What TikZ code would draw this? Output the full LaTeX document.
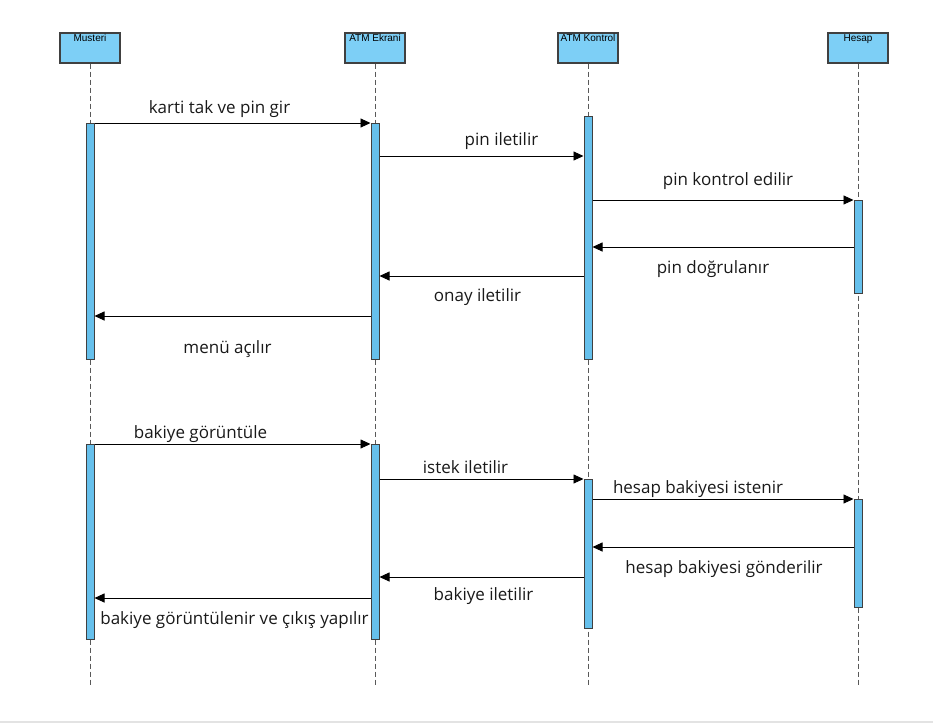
\documentclass[tikz,border=0pt]{standalone}
\usepackage{fontspec}
\setmainfont{Open Sans}
\newfontfamily\hdrfont{Liberation Sans}
\usetikzlibrary{arrows.meta}

\definecolor{hdrblue}{RGB}{125,207,246}
\definecolor{actblue}{RGB}{102,192,236}
\definecolor{edgegray}{RGB}{64,64,64}

\tikzset{
  head/.style={draw=edgegray, line width=1.2pt, fill=hdrblue, minimum width=60pt, minimum height=30pt, inner sep=0pt},
  headtext/.style={anchor=north, yshift=-2pt, inner sep=0pt, font=\hdrfont\fontsize{10}{12}\selectfont},
  actbar/.style={draw=edgegray, line width=1pt, fill=actblue, minimum width=8pt, inner sep=0pt},
  lifeline/.style={draw=gray!70!black, line width=0.8pt, dash pattern=on 5pt off 3pt},
  msg/.style={-{Triangle[length=10pt,width=9pt]}, line width=0.9pt},
  lbl/.style={anchor=base, inner sep=0pt, font=\fontsize{17}{19}\selectfont, text=black!90}
}

\begin{document}
\begin{tikzpicture}[x=1pt, y=-1pt]
  \useasboundingbox (0,0) rectangle (933,723);
  \draw[gray!22, line width=2pt] (0,722) -- (933,722);

  % participants
  \node[head, label={[headtext]north:Musteri}]     (musteri) at (90,48)  {};
  \node[head, label={[headtext]north:ATM Ekrani}]  (ekran)   at (375,48) {};
  \node[head, label={[headtext]north:ATM Kontrol}] (kontrol) at (588,48) {};
  \node[head, label={[headtext]north:Hesap}]       (hesap)   at (858,48) {};

  \foreach \p in {musteri,ekran,kontrol,hesap}
    \draw[lifeline] (\p.south) -- (\p.south |- 0,687);

  % activation bars
  \node[actbar, minimum height=236pt] (musteri-1) at (90,241)    {};
  \node[actbar, minimum height=236pt] (ekran-1)   at (375,241)   {};
  \node[actbar, minimum height=243pt] (kontrol-1) at (588,237.5) {};
  \node[actbar, minimum height=93pt]  (hesap-1)   at (858,246.5) {};
  \node[actbar, minimum height=195pt] (musteri-2) at (90,541.5)  {};
  \node[actbar, minimum height=195pt] (ekran-2)   at (375,541.5) {};
  \node[actbar, minimum height=149pt] (kontrol-2) at (588,553.5) {};
  \node[actbar, minimum height=108pt] (hesap-2)   at (858,553)   {};

  % pin
  \path[msg]
  (musteri-1.east |- 0,123) edge node[lbl, xshift=-13pt, yshift=10pt] {karti tak ve pin gir} (ekran-1.west |- 0,123)
  (ekran-1.east |- 0,156) edge node[lbl, xshift=20pt, yshift=11pt] {pin iletilir} (kontrol-1.west |- 0,156)
  (kontrol-1.east |- 0,200) edge node[lbl, xshift=5pt, yshift=15pt] {pin kontrol edilir} (hesap-1.west |- 0,200)
  (hesap-1.west |- 0,247) edge node[lbl, xshift=-10pt, yshift=-26pt] {pin doğrulanır} (kontrol-1.east |- 0,247)
  (kontrol-1.west |- 0,276) edge node[lbl, xshift=-4pt, yshift=-25pt] {onay iletilir} (ekran-1.east |- 0,276)
  (ekran-1.west |- 0,316) edge node[lbl, xshift=-5pt, yshift=-37pt] {menü açılır} (musteri-1.east |- 0,316)
  ;
  % bakiye
  \path[msg]
  (musteri-2.east |- 0,444) edge node[lbl, xshift=-32pt, yshift=6pt] {bakiye görüntüle} (ekran-2.west |- 0,444)
  (ekran-2.east |- 0,479) edge node[lbl, xshift=-16pt, yshift=6pt] {istek iletilir} (kontrol-2.west |- 0,479)
  (kontrol-2.east |- 0,499) edge node[lbl, xshift=-25pt, yshift=6pt] {hesap bakiyesi istenir} (hesap-2.west |- 0,499)
  (hesap-2.west |- 0,547) edge node[lbl, xshift=1pt, yshift=-26pt] {hesap bakiyesi gönderilir} (kontrol-2.east |- 0,547)
  (kontrol-2.west |- 0,577) edge node[lbl, xshift=2pt, yshift=-23pt] {bakiye iletilir} (ekran-2.east |- 0,577)
  (ekran-2.west |- 0,598) edge node[lbl, xshift=2pt, yshift=-26pt] {bakiye görüntülenir ve çıkış yapılır} (musteri-2.east |- 0,598)
  ;
\end{tikzpicture}
\end{document}
